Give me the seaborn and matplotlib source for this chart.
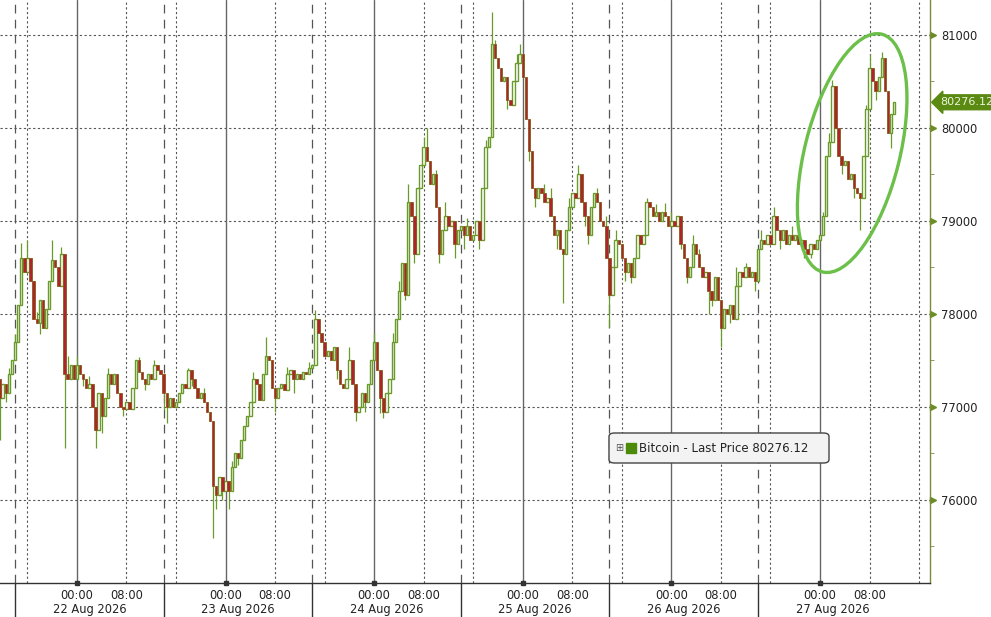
import numpy as np
import pandas as pd
import seaborn as sns
import matplotlib.pyplot as plt
import matplotlib.dates as mdates
from matplotlib.patches import Ellipse, FancyBboxPatch
from matplotlib.transforms import ScaledTranslation, blended_transform_factory

# 30 minute candles, Bitcoin last price
start = "2026-08-21 11:30"
first_open = 77300
closes = [
    77100, 77250, 77150, 77350, 77500, 77700, 78100, 78600, 78450, 78600,
    78350, 77950, 77900, 78150, 77850, 78050, 78350, 78580, 78500, 78300,
    78650, 77350, 77300, 77450, 77300, 77450, 77350, 77300, 77200, 77250,
    77000, 76750, 77150, 76900, 77100, 77350, 77250, 77350, 77150, 77000,
    76980, 77050, 76980, 77200, 77500, 77380, 77300, 77250, 77350, 77300,
    77450, 77400, 77350, 77150, 77000, 77100, 77000, 77050, 77150, 77250,
    77200, 77400, 77300, 77200, 77100, 77150, 77050, 76950, 76850, 76150,
    76050, 76250, 76100, 76200, 76100, 76350, 76500, 76450, 76650, 76800,
    76900, 77050, 77300, 77250, 77080, 77350, 77550, 77500, 77200, 77100,
    77200, 77250, 77180, 77350, 77400, 77300, 77350, 77300, 77380, 77350,
    77420, 77450, 77950, 77800, 77700, 77550, 77600, 77500, 77650, 77400,
    77250, 77200, 77300, 77500, 77250, 76950, 77000, 77150, 77050, 77250,
    77500, 77700, 77400, 77100, 76950, 77150, 77300, 77700, 77950, 78250,
    78550, 78200, 79200, 79050, 78650, 79350, 79600, 79800, 79650, 79400,
    79500, 79150, 78650, 78900, 79050, 78950, 79000, 78750, 78900, 78950,
    78850, 78950, 78800, 78850, 79000, 78800, 79350, 79800, 79900, 80900,
    80750, 80650, 80500, 80550, 80300, 80250, 80500, 80700, 80800, 80550,
    80100, 79750, 79350, 79250, 79350, 79300, 79200, 79250, 79050, 78850,
    78900, 78700, 78650, 78900, 79150, 79300, 79250, 79500, 79200, 79050,
    78850, 79150, 79300, 79200, 79000, 78950, 78600, 78200, 78500, 78800,
    78750, 78600, 78450, 78550, 78400, 78600, 78850, 78750, 78850, 79200,
    79150, 79050, 79100, 79000, 79100, 79050, 78950, 79000, 78950, 79050,
    78750, 78600, 78400, 78500, 78750, 78650, 78500, 78400, 78450, 78250,
    78150, 78400, 78150, 77850, 78050, 78000, 78100, 77950, 78300, 78450,
    78400, 78500, 78400, 78450, 78350, 78700, 78800, 78750, 78850, 78750,
    79050, 78900, 78800, 78900, 78750, 78850, 78800, 78850, 78750, 78800,
    78700, 78650, 78750, 78700, 78800, 78850, 79050, 79700, 79850, 80450,
    80000, 79700, 79600, 79650, 79450, 79500, 79350, 79300, 79250, 79700,
    80200, 80650, 80500, 80400, 80550, 80750, 80400, 79950, 80150, 80276.12,
]
# wicks that stick out past the candle body (candle index -> price)
wick_highs = {3: 77420, 5: 77780, 7: 78760, 9: 78800, 12: 78020, 17: 78800,
              20: 78720, 22: 77550, 25: 77550, 29: 77330, 35: 77420, 45: 77540,
              50: 77500, 61: 77420, 66: 77200, 75: 76420, 82: 77380, 86: 77750,
              93: 77430, 100: 77480, 102: 78040, 103: 77950, 113: 77650,
              121: 77800, 127: 77800, 129: 78350, 132: 79400, 137: 79900,
              138: 80000, 141: 79550, 144: 79200, 151: 79030, 157: 79870,
              159: 81250, 160: 80950, 167: 80800, 168: 80900, 176: 79400,
              178: 79350, 184: 79250, 187: 79600, 193: 79350, 196: 79050,
              199: 78900, 209: 79250, 212: 79180, 215: 79190, 217: 79100,
              224: 78850, 226: 78700, 238: 78500, 241: 78550, 246: 78900,
              250: 79150, 256: 78950, 266: 79100, 268: 79950, 269: 80520,
              280: 80250, 281: 80800, 285: 80820, 286: 80500}
wick_lows = {0: 76650, 2: 77050, 13: 77780, 21: 76560, 27: 77220, 31: 76560,
             33: 76720, 40: 76900, 47: 77180, 53: 76970, 54: 76830, 62: 77230,
             69: 75590, 70: 75900, 72: 76000, 74: 75900, 77: 76380, 89: 76950,
             95: 77150, 109: 77300, 115: 76850, 118: 76950, 123: 76930,
             124: 76880, 131: 78150, 134: 78550, 142: 78550, 147: 78600,
             150: 78700, 155: 78700, 164: 80200, 171: 79650, 173: 79150,
             180: 78700, 182: 78120, 189: 78950, 190: 78750, 197: 77860,
             202: 78350, 204: 78330, 220: 78700, 222: 78330, 229: 78000,
             230: 78090, 233: 77650, 236: 77900, 244: 78250, 252: 78700,
             260: 78600, 262: 78600, 272: 79500, 276: 79250, 278: 78900,
             283: 80300, 288: 79780}

days = ["2026-08-22", "2026-08-23", "2026-08-24", "2026-08-25", "2026-08-26", "2026-08-27"]
day_labels = ["22 Aug 2026", "23 Aug 2026", "24 Aug 2026", "25 Aug 2026", "26 Aug 2026", "27 Aug 2026"]
y_ticks = [76000, 77000, 78000, 79000, 80000, 81000]
last_price = 80276.12
series_name = "Bitcoin - Last Price"

# build the candle table
times = pd.date_range(start, periods=len(closes), freq="30min")
df = pd.DataFrame({"time": times, "close": closes})
df["open"] = [first_open] + closes[:-1]
df["high"] = df[["open", "close"]].max(axis=1)
df["low"] = df[["open", "close"]].min(axis=1)
for k, v in wick_highs.items():
    df.loc[k, "high"] = max(v, df.loc[k, "high"])
for k, v in wick_lows.items():
    df.loc[k, "low"] = min(v, df.loc[k, "low"])
df["t"] = mdates.date2num(df["time"])
up = df["close"] >= df["open"]

sns.set_style("white")
plt.rcParams["font.family"] = ["DejaVu Sans"]

green = "#6a9a2a"
red = "#ad2529"
grid_c = "#555555"
txt_c = "#222222"

fig = plt.figure(figsize=(9.91, 6.17), dpi=100)
ax = fig.add_axes([0, 34 / 617, 930 / 991, 583 / 617])

day0 = pd.Timestamp(days[0])
x_left = day0 - pd.Timedelta(hours=12.43)
x_right = pd.Timestamp(days[-1]) + pd.Timedelta(hours=17.77)
ax.set_xlim(mdates.date2num(x_left), mdates.date2num(x_right))
ax.set_ylim(75107, 81376)

# grid: dotted price lines, 8h time lines, solid midnight, dashed session break
for yv in y_ticks:
    ax.axhline(yv, color=grid_c, lw=0.8, ls=(0, (2, 2.2)), zorder=0)
for d in [pd.Timestamp(days[0]) - pd.Timedelta(days=1)] + [pd.Timestamp(s) for s in days]:
    for h in (8, 16):
        ax.axvline(mdates.date2num(d + pd.Timedelta(hours=h)), color=grid_c, lw=0.8,
                   ls=(0, (2, 2.2)), zorder=0)
for s in days:
    d = pd.Timestamp(s)
    ax.axvline(mdates.date2num(d), color="#666666", lw=1.0, zorder=0)
    brk = mdates.date2num(d - pd.Timedelta(hours=10))
    ax.axvline(brk, color=grid_c, lw=0.9, ls=(0, (7, 5)), zorder=0)
    ax.axvline(brk, ymin=-0.06, ymax=0, color="#333333", lw=1.0, clip_on=False)

# candles
w = 0.78 / 48
ax.vlines(df["t"], df["low"], df["high"], color=green, lw=0.9, zorder=2)
body = (df["close"] - df["open"]).abs().clip(lower=8)
bottoms = df[["open", "close"]].min(axis=1)
ax.bar(df["t"][up], body[up], bottom=bottoms[up], width=w, facecolor="white",
       edgecolor=green, linewidth=1.0, zorder=3)
ax.bar(df["t"][~up], body[~up], bottom=bottoms[~up], width=w, facecolor=red,
       edgecolor="#8a5a1e", linewidth=0.6, zorder=3)

# highlight ellipse around the last day's rally
ell_center = ScaledTranslation(mdates.date2num(pd.Timestamp(days[-1]) + pd.Timedelta(hours=5.2)),
                               79730, ax.transData)
ax.add_patch(Ellipse((0, 0), 0.95, 2.45, angle=-14, fill=False, edgecolor="#6cc04a",
                     lw=2.4, transform=fig.dpi_scale_trans + ell_center, zorder=5))

# spines
for side in ("top", "left"):
    ax.spines[side].set_visible(False)
ax.spines["right"].set_color("#7d8a3c")
ax.spines["bottom"].set_color("#333333")
ax.spines["right"].set_linewidth(1.0)
ax.spines["bottom"].set_linewidth(1.0)

# y axis on the right
ax.yaxis.tick_right()
ax.set_yticks(y_ticks)
ax.set_yticklabels([str(v) for v in y_ticks])
ax.set_yticks([v + 500 for v in y_ticks[:-1]] + [75500], minor=True)
ax.tick_params(axis="y", which="major", length=0, pad=8, labelsize=8.3, labelcolor=txt_c)
ax.tick_params(axis="y", which="minor", length=3, direction="out", color="#7d8a3c")
tri = blended_transform_factory(ax.transAxes, ax.transData)
ax.plot([1.0035] * len(y_ticks), y_ticks, ls="none", marker=">", ms=4.5, color="#6b8e23",
        transform=tri, clip_on=False)

# x axis
major = []
xlabels = []
for s in days:
    d = pd.Timestamp(s)
    major += [d, d + pd.Timedelta(hours=8)]
    xlabels += ["00:00", "08:00"]
ax.set_xticks(mdates.date2num(major))
ax.set_xticklabels(xlabels)
minor = pd.date_range(pd.Timestamp(days[0]) - pd.Timedelta(hours=8), x_right, freq="4h")
ax.set_xticks(mdates.date2num(minor), minor=True)
ax.tick_params(axis="x", which="major", length=3, pad=1.0, labelsize=8.3, labelcolor=txt_c,
               color="#333333")
ax.tick_params(axis="x", which="minor", length=3, color="#333333")
bx = blended_transform_factory(ax.transData, ax.transAxes)
ax.plot(mdates.date2num([pd.Timestamp(s) for s in days]), [0] * len(days), ls="none",
        marker="s", ms=2.6, color="#333333", transform=bx, clip_on=False)
for s, lab in zip(days, day_labels):
    xc = mdates.date2num(pd.Timestamp(s) + pd.Timedelta(hours=2))
    ax.text(xc, -0.045, lab, transform=bx, ha="center", va="center", fontsize=8.3, color=txt_c)

# last price tag
ax.text(1.0105, last_price, f"{last_price:.2f}", transform=tri, ha="left", va="center",
        fontsize=8.0, color="#eef5dc", clip_on=False,
        bbox=dict(boxstyle="larrow,pad=0.22", facecolor="#5a8a12", edgecolor="#5a8a12"))

# legend box
ax.add_patch(FancyBboxPatch((609 / 930, 120 / 583), 220 / 930, 30 / 583,
                            boxstyle="round,pad=0,rounding_size=0.006",
                            transform=ax.transAxes, facecolor="#f3f3f3",
                            edgecolor="#444444", lw=1.0, zorder=6))
ax.text(619 / 930, 135 / 583, "\u229e", transform=ax.transAxes, ha="center", va="center",
        fontsize=7, color="#555555", zorder=7)
ax.plot([631 / 930], [135 / 583], ls="none", marker="s", ms=7.5, color="#4e8a0a",
        transform=ax.transAxes, zorder=7)
ax.text(639 / 930, 135 / 583, f"{series_name} {last_price:.2f}", transform=ax.transAxes,
        ha="left", va="center", fontsize=8.5, color=txt_c, zorder=7)

fig.savefig("out.png", dpi=100)
